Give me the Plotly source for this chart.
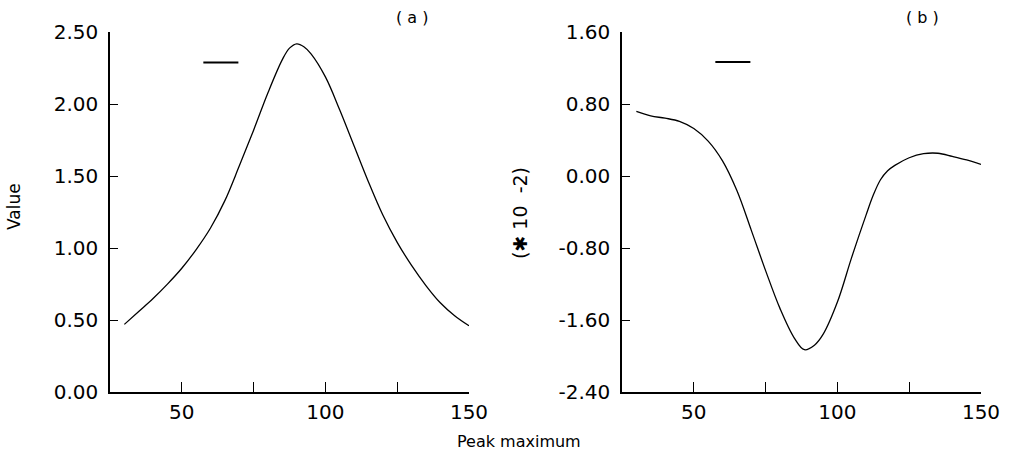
import plotly.graph_objects as go

# ---- data ----
x_a = [30, 35, 40, 45, 50, 55, 60, 65, 70, 75, 80, 85, 87.5, 90, 92.5, 95, 100, 105, 110,
       115, 120, 125, 130, 135, 140, 145, 150]
y_a = [0.47, 0.56, 0.65, 0.75, 0.86, 0.99, 1.14, 1.33, 1.57, 1.82, 2.08, 2.31, 2.39, 2.42, 2.40,
       2.35, 2.19, 1.96, 1.71, 1.46, 1.23, 1.04, 0.88, 0.74, 0.62, 0.53, 0.46]

x_b = [30, 35, 40, 45, 50, 55, 60, 65, 70, 75, 80, 85, 88.5, 92, 95, 100, 105, 110, 112.5,
       115, 117.5, 120, 125, 130, 135, 140, 145, 150]
y_b = [0.72, 0.67, 0.645, 0.61, 0.53, 0.39, 0.17, -0.16, -0.60, -1.05, -1.47, -1.80, -1.93,
       -1.88, -1.76, -1.40, -0.90, -0.43, -0.21, -0.04, 0.06, 0.12, 0.205, 0.25, 0.255, 0.22,
       0.18, 0.13]

key_x = [57.5, 69.7]
key_y_a = [2.29, 2.29]
key_y_b = [1.27, 1.27]

x_tickvals = [50, 75, 100, 125, 150]
x_ticktext = ["50", "", "100", "", "150"]
yb_tickvals = [-2.4, -1.6, -0.8, 0.0, 0.8, 1.6]
yb_ticktext = ["-2.40", "-1.60", "-0.80", "0.00", "0.80", "1.60"]
x_range = [25, 150]
ya_range = [0, 2.5]
yb_range = [-2.4, 1.6]

FONT = "DejaVu Sans"
W, H = 1015, 472

fig = go.Figure()
line = dict(color="black", width=1.3)
fig.add_trace(go.Scatter(x=x_a, y=y_a, mode="lines", line=dict(shape="spline", **line),
                         xaxis="x", yaxis="y", showlegend=False))
fig.add_trace(go.Scatter(x=key_x, y=key_y_a, mode="lines", line=dict(color="black", width=2),
                         xaxis="x", yaxis="y", showlegend=False))
fig.add_trace(go.Scatter(x=x_b, y=y_b, mode="lines", line=dict(shape="spline", **line),
                         xaxis="x2", yaxis="y2", showlegend=False))
fig.add_trace(go.Scatter(x=key_x, y=key_y_b, mode="lines", line=dict(color="black", width=2),
                         xaxis="x2", yaxis="y2", showlegend=False))

ydom = [(H - 392) / H, (H - 32.3) / H]
xax = dict(range=x_range, showline=True, linecolor="black", linewidth=1.5, ticks="inside",
           ticklen=10, tickwidth=1.3, tickcolor="black", tickvals=x_tickvals,
           ticktext=x_ticktext, showgrid=False, zeroline=False, automargin=False,
           tickfont=dict(family=FONT, size=20, color="black"), ticklabelstandoff=1)
yax = dict(showline=True, linecolor="black", linewidth=1.5, ticks="inside", ticklen=8,
           tickwidth=1.3, tickcolor="black", showgrid=False, zeroline=False, automargin=False,
           tickformat=".2f", tickfont=dict(family=FONT, size=20, color="black"),
           ticklabelstandoff=6)

fig.update_layout(
    template="none",
    width=W, height=H, margin=dict(l=0, r=0, t=0, b=0, pad=0),
    paper_bgcolor="white", plot_bgcolor="white",
    xaxis=dict(domain=[110 / W, 469 / W], anchor="y", **xax),
    yaxis=dict(domain=ydom, anchor="x", range=ya_range, dtick=0.5, tick0=0, **yax),
    xaxis2=dict(domain=[622 / W, 981 / W], anchor="y2", **xax),
    yaxis2=dict(domain=ydom, anchor="x2", range=yb_range, tickvals=yb_tickvals,
                ticktext=yb_ticktext, **yax),
    annotations=[
        dict(text="( a )", x=412 / W, y=1 - 17 / H, xref="paper", yref="paper",
             xanchor="center", yanchor="middle",
             showarrow=False, font=dict(family=FONT, size=16, color="black")),
        dict(text="( b )", x=922 / W, y=1 - 17 / H, xref="paper", yref="paper",
             xanchor="center", yanchor="middle",
             showarrow=False, font=dict(family=FONT, size=16, color="black")),
        dict(text="Value", x=14 / W, y=1 - 207 / H, xref="paper", yref="paper",
             xanchor="center", yanchor="middle",
             textangle=-90, showarrow=False, font=dict(family=FONT, size=17, color="black")),
        dict(text="(\u2731 10  -2)", x=520 / W, y=1 - 213 / H, xref="paper", yref="paper",
             xanchor="center", yanchor="middle",
             textangle=-90, showarrow=False, font=dict(family=FONT, size=19, color="black")),
        dict(text="Peak maximum", x=519 / W, y=1 - 441 / H, xref="paper", yref="paper",
             xanchor="center", yanchor="middle",
             showarrow=False, font=dict(family=FONT, size=16, color="black")),
    ],
)

fig.write_html("out.html")
